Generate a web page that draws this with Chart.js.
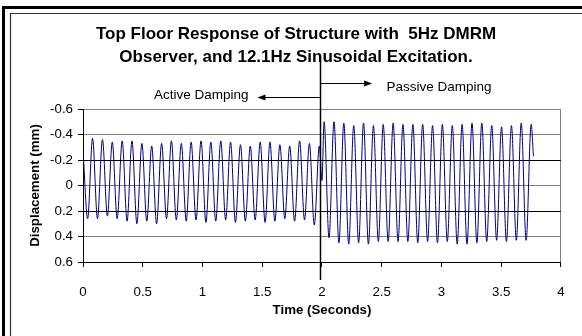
<!DOCTYPE html>
<html>
<head>
<meta charset="utf-8">
<script src="https://cdn.jsdelivr.net/npm/chart.js@4.4.1/dist/chart.umd.min.js"></script>
<style>
    html, body { margin: 0; padding: 0; background: #fff; }
    canvas { display: block; }
</style>
</head>
<body>
<canvas id="chart" width="582" height="336"></canvas>
<script>
// Extremes of the top floor displacement trace (mm).
const timeSec = [
    0.000, 0.039, 0.080, 0.121, 0.163, 0.204, 0.245, 0.286, 0.328, 0.369,
    0.410, 0.451, 0.493, 0.534, 0.575, 0.616, 0.658, 0.699, 0.740, 0.781,
    0.823, 0.864, 0.905, 0.946, 0.988, 1.029, 1.070, 1.111, 1.153, 1.194,
    1.235, 1.276, 1.318, 1.359, 1.400, 1.441, 1.483, 1.524, 1.565, 1.606,
    1.648, 1.689, 1.730, 1.771, 1.813, 1.854, 1.895, 1.936, 1.978, 2.000,
    2.018, 2.059, 2.101, 2.142, 2.183, 2.224, 2.266, 2.307, 2.348, 2.389,
    2.431, 2.472, 2.513, 2.554, 2.596, 2.637, 2.678, 2.719, 2.761, 2.802,
    2.843, 2.884, 2.926, 2.967, 3.008, 3.049, 3.091, 3.132, 3.173, 3.214,
    3.256, 3.297, 3.338, 3.379, 3.421, 3.462, 3.503, 3.544, 3.586, 3.627,
    3.668, 3.709, 3.751, 3.770
];
const dispMm = [
    -0.28, 0.26, -0.37, 0.26, -0.36, 0.24, -0.34, 0.26, -0.35, 0.28,
    -0.35, 0.30, -0.33, 0.28, -0.31, 0.30, -0.33, 0.26, -0.35, 0.27,
    -0.33, 0.28, -0.34, 0.27, -0.35, 0.29, -0.34, 0.28, -0.35, 0.27,
    -0.34, 0.29, -0.32, 0.28, -0.31, 0.27, -0.34, 0.29, -0.34, 0.28,
    -0.32, 0.26, -0.31, 0.28, -0.35, 0.27, -0.33, 0.31, -0.31, -0.04,
    -0.50, 0.41, -0.50, 0.45, -0.49, 0.46, -0.47, 0.45, -0.49, 0.46,
    -0.47, 0.44, -0.48, 0.44, -0.49, 0.44, -0.48, 0.44, -0.48, 0.45,
    -0.48, 0.44, -0.47, 0.45, -0.48, 0.44, -0.47, 0.46, -0.48, 0.46,
    -0.49, 0.45, -0.49, 0.44, -0.47, 0.43, -0.46, 0.44, -0.47, 0.43,
    -0.49, 0.43, -0.48, -0.23
];

const xTicks = [0, 0.5, 1, 1.5, 2, 2.5, 3, 3.5, 4];
const yTicks = [-0.6, -0.4, -0.2, 0, 0.2, 0.4, 0.6];

const titleLines = ['Top Floor Response of Structure with  5Hz DMRM', 'Observer, and 12.1Hz Sinusoidal Excitation.'];
const switchTime = 1.985;
const activeLabel = 'Active Damping';
const passiveLabel = 'Passive Damping';

const FONT = '"Liberation Sans", Arial, Helvetica, sans-serif';
Chart.defaults.font.family = FONT;
Chart.defaults.color = '#000';

function drawArrow(ctx, fromX, toX, y) {
    const dir = toX > fromX ? 1 : -1;
    ctx.beginPath();
    ctx.moveTo(fromX, y);
    ctx.lineTo(toX - dir * 6, y);
    ctx.stroke();
    ctx.beginPath();
    ctx.moveTo(toX, y);
    ctx.lineTo(toX - dir * 8, y - 3);
    ctx.lineTo(toX - dir * 8, y + 3);
    ctx.closePath();
    ctx.fill();
}

const annotations = {
    id: 'annotations',
    beforeDraw(chart) {
        const { ctx, width, height } = chart;
        ctx.save();
        ctx.fillStyle = '#fff';
        ctx.fillRect(0, 0, width, height);
        ctx.restore();
    },
    afterDatasetsDraw(chart) {
        const { ctx, chartArea, scales: { x } } = chart;
        const splitX = Math.round(x.getPixelForValue(switchTime)) + 0.5;
        ctx.save();
        ctx.strokeStyle = '#000';
        ctx.fillStyle = '#000';
        ctx.lineWidth = 1.5;
        ctx.beginPath();
        ctx.moveTo(splitX, chartArea.top - 47.5);
        ctx.lineTo(splitX, chartArea.bottom + 18);
        ctx.stroke();

        ctx.lineWidth = 1;
        drawArrow(ctx, splitX, x.getPixelForValue(2.42), Math.round(chartArea.top - 26) + 0.5);
        drawArrow(ctx, splitX, x.getPixelForValue(1.46), Math.round(chartArea.top - 12) + 0.5);

        ctx.font = '13.5px ' + FONT;
        ctx.textBaseline = 'alphabetic';
        ctx.textAlign = 'left';
        ctx.fillText(passiveLabel, x.getPixelForValue(2.54), chartArea.top - 18.3);
        ctx.textAlign = 'right';
        ctx.fillText(activeLabel, x.getPixelForValue(1.385), chartArea.top - 10);
        ctx.restore();
    },
    afterDraw(chart) {
        const { ctx, width, height } = chart;
        ctx.save();
        // double frame, cut off at right and bottom like the source image
        ctx.strokeStyle = '#000';
        ctx.lineWidth = 3;
        ctx.beginPath();
        ctx.moveTo(3.5, height);
        ctx.lineTo(3.5, 7.5);
        ctx.lineTo(width, 7.5);
        ctx.stroke();
        ctx.lineWidth = 1.2;
        ctx.strokeStyle = '#333';
        ctx.beginPath();
        ctx.moveTo(10.5, height);
        ctx.lineTo(10.5, 13.5);
        ctx.lineTo(width, 13.5);
        ctx.stroke();
        ctx.restore();
    }
};

const ctx = document.getElementById('chart').getContext('2d');
new Chart(ctx, {
    type: 'line',
    data: {
        datasets: [{
            data: timeSec.map((t, i) => ({ x: t, y: dispMm[i] })),
            borderColor: '#000080',
            borderWidth: 1,
            pointRadius: 0,
            cubicInterpolationMode: 'monotone',
            fill: false
        }]
    },
    options: {
        responsive: false,
        animation: false,
        devicePixelRatio: 1,
        layout: { padding: { left: 24, right: 14, top: 0, bottom: 0 } },
        plugins: {
            legend: { display: false },
            tooltip: { enabled: false },
            title: {
                display: true,
                text: titleLines,
                color: '#000',
                font: { size: 17, weight: 'bold', lineHeight: '23.5px' },
                padding: { top: 22.35, bottom: 39.65 }
            }
        },
        scales: {
            x: {
                type: 'linear',
                min: 0,
                max: 4,
                afterBuildTicks: (scale) => { scale.ticks = xTicks.map((v) => ({ value: v })); },
                afterFit: (scale) => { scale.height = 74; },
                ticks: { font: { size: 13.3 }, color: '#000', padding: 17.4, maxRotation: 0, callback: (v) => String(v) },
                grid: {
                    color: (c) => (c.tick && c.tick.value === 4 ? '#808080' : 'rgba(0,0,0,0)'),
                    tickColor: '#000',
                    tickLength: 5,
                    lineWidth: 1
                },
                border: { color: '#000', width: 1 },
                title: {
                    display: true,
                    text: 'Time (Seconds)',
                    color: '#000',
                    font: { size: 13.3, weight: 'bold' },
                    padding: { top: 0, bottom: 17.6 }
                }
            },
            y: {
                type: 'linear',
                reverse: true,
                min: -0.6,
                max: 0.6,
                afterBuildTicks: (scale) => { scale.ticks = yTicks.map((v) => ({ value: v })); },
                afterFit: (scale) => { scale.width = 59; },
                ticks: { font: { size: 13.3 }, color: '#000', padding: 5, callback: (v) => (v === 0 ? '0' : v.toFixed(1)) },
                grid: {
                    color: (c) => (c.tick && Math.abs(Math.abs(c.tick.value) - 0.2) < 1e-6 ? '#000' : '#808080'),
                    tickColor: '#000',
                    tickLength: 5,
                    lineWidth: 1
                },
                border: { color: '#000', width: 1 },
                title: {
                    display: true,
                    text: 'Displacement (mm)',
                    color: '#000',
                    font: { size: 13.3, weight: 'bold' },
                    padding: { top: 2.9, bottom: 0 }
                }
            }
        }
    },
    plugins: [annotations]
});
</script>
</body>
</html>
